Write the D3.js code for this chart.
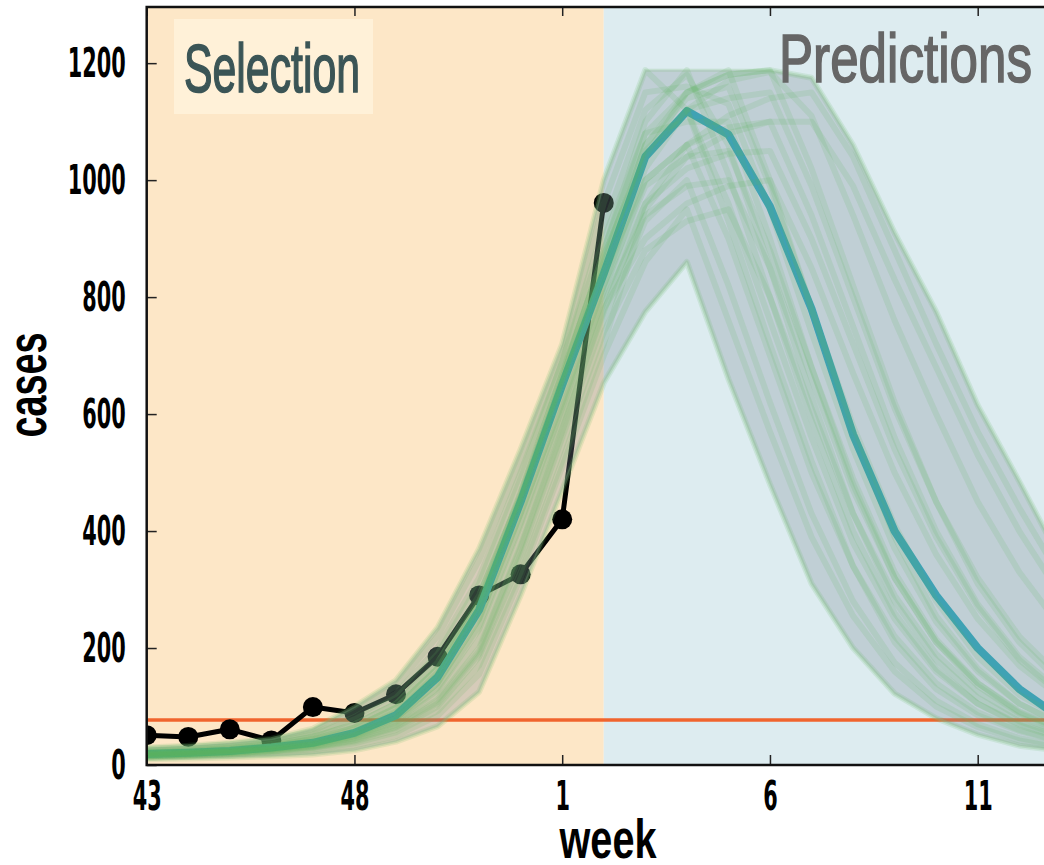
<!DOCTYPE html>
<html>
<head>
<meta charset="utf-8">
<script src="https://cdn.jsdelivr.net/npm/d3@7"></script>
<style>
  body { margin: 0; background: #fff; }
  svg { display: block; }
  .tick text { font-family: "Liberation Sans Narrow", "DejaVu Sans Condensed", sans-serif; font-weight: bold; font-size: 41px; fill: #000; }
</style>
</head>
<body>
<div id="chart"></div>
<script>
// week labels on the x axis (index 0 = week 43)
var tickIndex = [0, 5, 10, 15, 20];
var tickWeeks = ["43", "48", "1", "6", "11"];
var yTicks = [0, 200, 400, 600, 800, 1000, 1200];

// observed weekly cases (weeks 43 .. 2)
var observed = [51, 48, 61, 42, 99, 89, 121, 185, 290, 326, 420, 961];
var threshold = 77;
var selectionEnd = 11;

// mean of the predictions
var meanCurve = [19, 21, 24, 30, 38, 55, 85, 150, 265, 450, 650, 840, 1040, 1118, 1078, 955, 780, 565, 400, 290, 200, 130, 80];

// ensemble members
var m1  = [30, 33, 38, 45, 62, 100, 145, 235, 370, 540, 720, 1000, 1188, 1120, 930, 720, 520, 340, 210, 130, 85, 58, 40];
var m2  = [10, 11, 13, 15, 18, 25, 40, 66, 125, 290, 470, 653, 775, 860, 660, 480, 310, 200, 122, 80, 52, 33, 24];
var m3  = [15, 17, 20, 24, 30, 42, 64, 105, 190, 360, 560, 760, 930, 1000, 820, 620, 430, 280, 175, 110, 70, 46, 32];
var m4  = [22, 25, 29, 36, 48, 70, 105, 175, 290, 460, 660, 880, 1100, 1188, 1010, 800, 590, 400, 260, 165, 105, 68, 45];
var m5  = [19, 21, 24, 30, 38, 55, 85, 150, 265, 450, 650, 840, 1040, 1150, 1188, 1000, 780, 570, 390, 255, 165, 105, 70];
var m6  = [18, 20, 23, 28, 36, 52, 80, 140, 250, 430, 620, 820, 990, 1040, 1050, 880, 680, 490, 330, 215, 140, 90, 60];
var m7  = [14, 16, 19, 23, 29, 40, 60, 100, 185, 350, 545, 740, 880, 930, 950, 800, 610, 430, 290, 190, 125, 82, 55];
var m8  = [22, 25, 29, 36, 48, 70, 105, 175, 290, 460, 660, 880, 1080, 1150, 1180, 1188, 1020, 820, 620, 450, 310, 210, 140];
var m9  = [19, 21, 24, 30, 38, 55, 85, 150, 265, 450, 650, 840, 1000, 1060, 1090, 1100, 940, 750, 560, 400, 275, 185, 125];
var m10 = [20, 22, 25, 31, 40, 58, 90, 155, 270, 455, 655, 850, 1060, 1150, 1180, 1188, 1175, 1060, 910, 775, 615, 485, 350];
var m11 = [21, 23, 27, 33, 44, 64, 98, 165, 280, 465, 670, 870, 1040, 1120, 960, 760, 560, 380, 250, 160, 105, 70, 48];
var m12 = [28, 31, 36, 43, 58, 92, 135, 220, 350, 520, 700, 960, 1150, 1160, 1130, 950, 740, 540, 370, 245, 160, 105, 70];
var m13 = [16, 18, 21, 25, 32, 45, 68, 112, 200, 375, 575, 780, 900, 960, 990, 1000, 850, 670, 500, 360, 250, 170, 115];
var m14 = [13, 15, 18, 22, 27, 37, 56, 92, 170, 330, 520, 720, 950, 1040, 1080, 1100, 1100, 990, 830, 680, 530, 400, 290];
var m15 = [24, 27, 31, 38, 52, 78, 115, 190, 310, 490, 690, 920, 1120, 1180, 1060, 850, 630, 430, 280, 180, 115, 75, 50];
var m16 = [16, 18, 21, 26, 33, 47, 72, 120, 215, 390, 590, 790, 940, 990, 1000, 850, 660, 470, 320, 210, 140, 92, 62];
var m17 = [18, 20, 23, 28, 36, 52, 80, 140, 250, 430, 620, 820, 1020, 1120, 1170, 1185, 1110, 940, 760, 600, 450, 330, 235];
var m18 = [12, 14, 16, 19, 24, 33, 50, 84, 155, 320, 510, 700, 860, 950, 760, 570, 390, 255, 160, 100, 65, 42, 29];
var m19 = [20, 22, 26, 32, 42, 60, 92, 158, 275, 458, 660, 860, 1060, 1140, 1160, 990, 780, 580, 410, 280, 185, 120, 80];
var m20 = [15, 17, 20, 24, 31, 43, 66, 108, 195, 370, 570, 775, 960, 1060, 1110, 1140, 1150, 1040, 880, 720, 570, 440, 320];
var m21 = [17, 19, 22, 27, 34, 49, 75, 128, 232, 410, 600, 800, 960, 1020, 1045, 1050, 900, 720, 540, 390, 270, 180, 120];
var m22 = [17, 19, 22, 27, 35, 50, 77, 132, 238, 415, 610, 810, 1000, 1060, 900, 700, 500, 340, 220, 140, 90, 60, 40];
var m23 = [25, 28, 32, 40, 54, 82, 122, 200, 320, 500, 690, 900, 1080, 1100, 1100, 900, 680, 480, 320, 210, 135, 88, 58];
var m24 = [21, 23, 27, 33, 44, 64, 98, 165, 280, 465, 670, 870, 1050, 1120, 1140, 1150, 990, 800, 610, 450, 320, 220, 150];
var members = [m1, m2, m3, m4, m5, m6, m7, m8, m9, m10, m11, m12,
               m13, m14, m15, m16, m17, m18, m19, m20, m21, m22, m23, m24];

var svgWidth = 1044;
var svgHeight = 865;
var plotLeft = 146.7, plotTop = 7, plotBottom = 765;

var svg = d3.select("#chart")
  .append("svg")
  .attr("width", svgWidth)
  .attr("height", svgHeight);

var x = d3.scaleLinear().domain([0, 22]).range([plotLeft, plotLeft + 22 * 41.55]);
var y = d3.scaleLinear().domain([0, 1296]).range([plotBottom, plotTop]);

svg.append("defs").append("clipPath").attr("id", "plot")
  .append("rect")
  .attr("x", plotLeft).attr("y", plotTop)
  .attr("width", x(22) - plotLeft).attr("height", plotBottom - plotTop);

var plot = svg.append("g").attr("clip-path", "url(#plot)");

// backgrounds
plot.append("rect")
  .attr("x", x(0)).attr("y", plotTop)
  .attr("width", x(selectionEnd) - x(0)).attr("height", plotBottom - plotTop)
  .attr("fill", "#fde7c7");
plot.append("rect")
  .attr("x", x(selectionEnd)).attr("y", plotTop)
  .attr("width", x(22) - x(selectionEnd)).attr("height", plotBottom - plotTop)
  .attr("fill", "#ddecf0");

// threshold
plot.append("line")
  .attr("x1", x(0)).attr("x2", x(22))
  .attr("y1", y(threshold)).attr("y2", y(threshold))
  .attr("stroke", "#f0642e").attr("stroke-width", 3.5);

// observed
var line = d3.line().x((d, i) => x(i)).y(d => y(d));
plot.append("path")
  .datum(observed)
  .attr("d", line)
  .attr("fill", "none")
  .attr("stroke", "#000")
  .attr("stroke-width", 5)
  .attr("stroke-linejoin", "round");
plot.selectAll(".obs")
  .data(observed)
  .enter()
  .append("circle")
  .attr("cx", (d, i) => x(i))
  .attr("cy", d => y(d))
  .attr("r", 10)
  .attr("fill", "#000");

// envelope of the ensemble
var idx = d3.range(meanCurve.length);
var band = d3.area()
  .x(i => x(i))
  .y0(i => y(d3.min(members, m => m[i])))
  .y1(i => y(d3.max(members, m => m[i])));
plot.append("path")
  .datum(idx)
  .attr("d", band)
  .attr("fill", "#7f8c99")
  .attr("fill-opacity", 0.3)
  .attr("stroke", "#8fc08f")
  .attr("stroke-opacity", 0.3)
  .attr("stroke-width", 3)
  .attr("stroke-linejoin", "round");

// mean
plot.append("path")
  .datum(meanCurve)
  .attr("d", line)
  .attr("fill", "none")
  .attr("stroke", "#3fa2b4")
  .attr("stroke-width", 8)
  .attr("stroke-linejoin", "round");

// ensemble lines
plot.selectAll(".member")
  .data(members)
  .enter()
  .append("path")
  .attr("d", line)
  .attr("fill", "none")
  .attr("stroke", "#5cb85c")
  .attr("stroke-opacity", 0.15)
  .attr("stroke-width", 6)
  .attr("stroke-linejoin", "round");

// region labels
svg.append("rect")
  .attr("x", 174).attr("y", 19)
  .attr("width", 199).attr("height", 95)
  .attr("fill", "#fff1d8");
svg.append("text")
  .attr("x", 184).attr("y", 92)
  .attr("textLength", 176).attr("lengthAdjust", "spacingAndGlyphs")
  .style("font-family", "Liberation Sans Narrow, sans-serif")
  .style("font-size", "69px")
  .style("fill", "#3b5556")
  .style("stroke", "#3b5556")
  .style("stroke-width", 1.6)
  .text("Selection");
svg.append("text")
  .attr("x", 779).attr("y", 82)
  .attr("textLength", 253).attr("lengthAdjust", "spacingAndGlyphs")
  .style("font-family", "Liberation Sans Narrow, sans-serif")
  .style("font-size", "69px")
  .style("fill", "#666")
  .style("stroke", "#666")
  .style("stroke-width", 1.6)
  .text("Predictions");

// axes
var yAxis = d3.axisLeft(y).tickValues(yTicks).tickSize(-10).tickPadding(21)
  .tickFormat(d3.format("d"));
var xAxis = d3.axisBottom(x).tickValues(tickIndex).tickSize(-10).tickPadding(16)
  .tickFormat((d, i) => tickWeeks[i]);
var xTop = d3.axisTop(x).tickValues(tickIndex).tickSize(-9).tickFormat("");

svg.append("g").attr("transform", `translate(${plotLeft},0)`).call(yAxis);
svg.append("g").attr("transform", `translate(0,${plotBottom})`).call(xAxis);
svg.append("g").attr("transform", `translate(0,${plotTop})`).call(xTop);
svg.selectAll(".domain").remove();
svg.selectAll(".tick line").attr("stroke", "#222").attr("stroke-width", 1.5);
svg.selectAll(".tick text")
  .attr("textLength", function() { return this.textContent.length * 14.5; })
  .attr("lengthAdjust", "spacingAndGlyphs");

// spines
svg.append("path")
  .attr("d", `M${x(22)},${plotTop}H${plotLeft}V${plotBottom}H${x(22)}`)
  .attr("fill", "none")
  .attr("stroke", "#111")
  .attr("stroke-width", 2.5);

// axis titles
svg.append("text")
  .attr("x", 608).attr("y", 858)
  .attr("text-anchor", "middle")
  .attr("textLength", 97).attr("lengthAdjust", "spacingAndGlyphs")
  .style("font-family", "Liberation Sans Narrow, sans-serif")
  .style("font-weight", "bold")
  .style("font-size", "56px")
  .text("week");
svg.append("text")
  .attr("transform", "translate(46,385) rotate(-90)")
  .attr("text-anchor", "middle")
  .attr("textLength", 105).attr("lengthAdjust", "spacingAndGlyphs")
  .style("font-family", "Liberation Sans Narrow, sans-serif")
  .style("font-weight", "bold")
  .style("font-size", "56px")
  .text("cases");
</script>
</body>
</html>
